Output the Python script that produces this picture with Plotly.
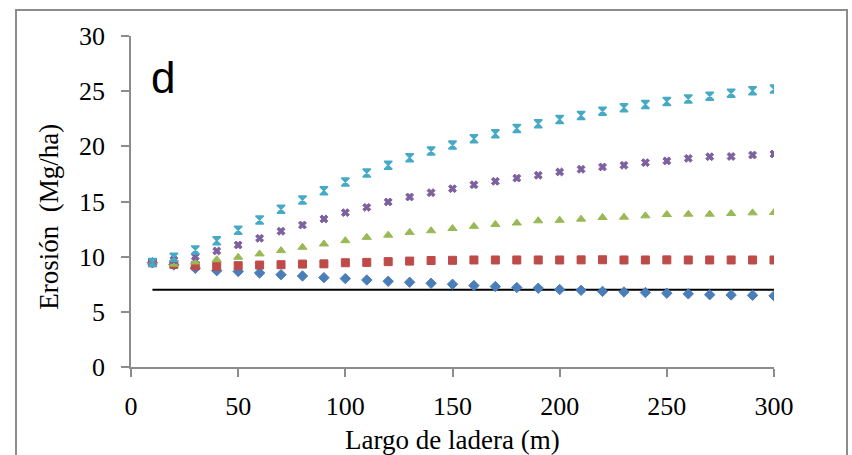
import plotly.graph_objects as go

# Slope length (m)
largo = [10, 20, 30, 40, 50, 60, 70, 80, 90, 100, 110, 120, 130, 140, 150,
         160, 170, 180, 190, 200, 210, 220, 230, 240, 250, 260, 270, 280, 290, 300]

# Erosion (Mg/ha) per scenario
serie_1 = [9.45, 9.25, 8.95, 8.73, 8.66, 8.52, 8.37, 8.25, 8.10, 8.01, 7.89, 7.77, 7.68, 7.59, 7.50,
           7.38, 7.29, 7.20, 7.14, 7.02, 6.95, 6.85, 6.80, 6.75, 6.69, 6.63, 6.55, 6.53, 6.50, 6.45]
serie_2 = [9.45, 9.30, 9.18, 9.12, 9.18, 9.24, 9.27, 9.33, 9.35, 9.45, 9.48, 9.55, 9.60, 9.65, 9.67,
           9.70, 9.70, 9.70, 9.70, 9.70, 9.71, 9.72, 9.70, 9.70, 9.71, 9.70, 9.70, 9.70, 9.70, 9.70]
serie_3 = [9.45, 9.32, 9.52, 9.73, 9.95, 10.25, 10.55, 10.85, 11.15, 11.45, 11.75, 11.95, 12.20, 12.35, 12.55,
           12.75, 12.92, 13.05, 13.25, 13.30, 13.40, 13.55, 13.58, 13.70, 13.82, 13.85, 13.85, 13.91, 13.97, 14.00]
serie_4 = [9.48, 9.70, 10.00, 10.52, 11.06, 11.67, 12.30, 12.87, 13.42, 13.99, 14.47, 14.96, 15.41, 15.80, 16.16,
           16.52, 16.83, 17.12, 17.38, 17.68, 17.92, 18.13, 18.28, 18.52, 18.68, 18.91, 19.06, 19.08, 19.21, 19.31]
serie_5 = [9.48, 9.95, 10.60, 11.45, 12.40, 13.33, 14.30, 15.14, 15.98, 16.77, 17.58, 18.28, 18.97, 19.57, 20.11,
           20.68, 21.14, 21.62, 22.05, 22.43, 22.79, 23.19, 23.49, 23.79, 24.07, 24.29, 24.55, 24.82, 25.03, 25.19]

# Reference level
umbral_x = [10, 300]
umbral_y = [7, 7]

x_ticks = [0, 50, 100, 150, 200, 250, 300]
y_ticks = [0, 5, 10, 15, 20, 25, 30]

SERIF = "Liberation Serif, Times New Roman, serif"

fig = go.Figure()

fig.add_trace(go.Scatter(x=umbral_x, y=umbral_y, mode="lines",
                         line=dict(color="black", width=2), showlegend=False))

estilos = [
    (serie_1, "diamond", "#4A7EBB", 8, 1),
    (serie_2, "square", "#BE4B48", 8, 1),
    (serie_3, "triangle-up", "#98B954", 8, 1),
    (serie_4, "x", "#7D60A0", 7, 1),
    (serie_5, "hourglass", "#46AAC5", 8, 1.5),
]
for valores, simbolo, color, tam, borde in estilos:
    fig.add_trace(go.Scatter(
        x=largo, y=valores, mode="markers", showlegend=False,
        marker=dict(symbol=simbolo, size=tam, color=color,
                    line=dict(width=borde, color=color)),
    ))

axis_common = dict(
    showgrid=False, zeroline=False, showline=True,
    linecolor="#8C8C8C", linewidth=1.5,
    ticks="outside", ticklen=8, tickcolor="#8C8C8C", tickwidth=1.5,
    tickfont=dict(family=SERIF, size=26, color="black"),
)

fig.update_xaxes(range=[0, 300], tickvals=x_ticks, ticklabelstandoff=7, **axis_common)
fig.update_yaxes(range=[0, 30], tickvals=y_ticks, ticklabelstandoff=11, **axis_common)

# Plot area geometry in pixels
L, R, T, B = 131, 774, 36, 367.3
W, H = R - L, B - T

# Chart frame
fig.add_shape(type="rect", xref="paper", yref="paper",
              x0=(16 - L) / W, x1=(847 - L) / W,
              y0=(B - 470) / H, y1=(B - 10) / H,
              line=dict(color="#8C8C8C", width=2), fillcolor="rgba(0,0,0,0)",
              layer="below")

# Axis titles
fig.add_annotation(x=0.5, y=(B - 440) / H, xref="paper", yref="paper",
                   xanchor="center", yanchor="middle",
                   text="Largo de ladera (m)", showarrow=False,
                   font=dict(family=SERIF, size=27, color="black"))
fig.add_annotation(x=(49 - L) / W, y=(B - 217) / H, xref="paper", yref="paper",
                   xanchor="center", yanchor="middle",
                   text="Erosión  (Mg/ha)", textangle=-90, showarrow=False,
                   font=dict(family=SERIF, size=27, color="black"))

fig.add_annotation(x=15, y=26.2, xref="x", yref="y", text="d", showarrow=False,
                   font=dict(family="Liberation Sans, Arial, sans-serif", size=44, color="black"))

fig.update_layout(
    width=852, height=455,
    margin=dict(l=L, r=852 - R, t=T, b=455 - B),
    paper_bgcolor="white", plot_bgcolor="white",
)

fig.write_html("out.html")
